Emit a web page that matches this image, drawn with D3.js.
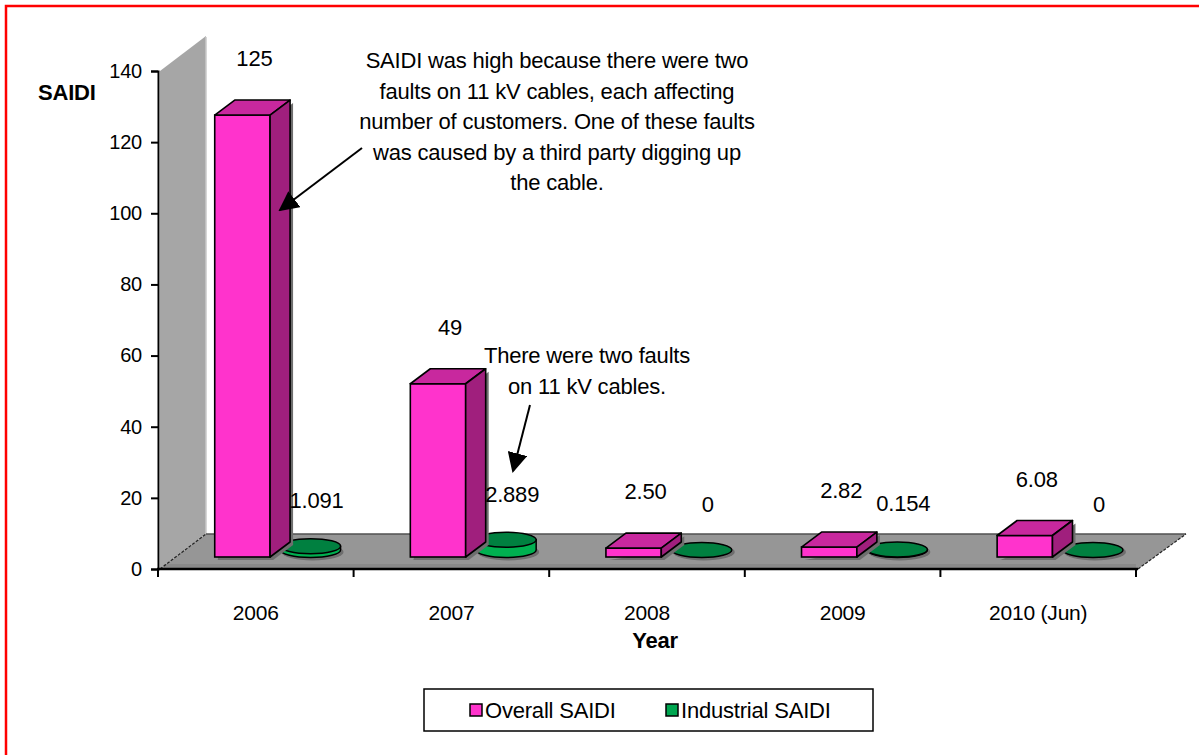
<!DOCTYPE html>
<html>
<head>
<meta charset="utf-8">
<script src="https://cdn.jsdelivr.net/npm/d3@7/dist/d3.min.js"></script>
<style>
  html, body { margin: 0; padding: 0; background: #fff; }
  svg { display: block; }
  text { font-family: "Liberation Sans", Arial, sans-serif; fill: #000; letter-spacing: -0.2px; }
</style>
</head>
<body>
<svg id="chart" width="1199" height="755"></svg>
<script>
// SAIDI by year
const years = ["2006", "2007", "2008", "2009", "2010 (Jun)"];
const overallSaidi = [125, 49, 2.50, 2.82, 6.08];
const industrialSaidi = [1.091, 2.889, 0, 0.154, 0];
const overallLabels = ["125", "49", "2.50", "2.82", "6.08"];
const industrialLabels = ["1.091", "2.889", "0", "0.154", "0"];
const yTickValues = [0, 20, 40, 60, 80, 100, 120, 140];
const seriesNames = ["Overall SAIDI", "Industrial SAIDI"];

const note1 = [
  "SAIDI was high because there were two",
  "faults on 11 kV cables, each affecting",
  "number of customers. One of these faults",
  "was caused by a third party digging up",
  "the cable."
];
const note2 = ["There were two faults", "on 11 kV cables."];

const svg = d3.select("#chart");

// colours
const pinkFront = "#FF33CC", pinkTop = "#C8289E", pinkSide = "#A01F7D";
const greenTop = "#008040", greenSide = "#00B050", greenLegend = "#00A650";

// frame
svg.append("rect").attr("x", 6).attr("y", 6).attr("width", 1210).attr("height", 770)
  .attr("fill", "none").attr("stroke", "#FF0000").attr("stroke-width", 2.5);

// scales
const x = d3.scaleBand().domain(years).range([158, 1136]).paddingInner(0).paddingOuter(0);
const y = d3.scaleLinear().domain([0, 140]).range([569, 71]);
// bars stand on a plane set back into the floor
const yBar = d3.scaleLinear().domain([0, 140]).range([557, 62]);

const depthX = 46, depthY = -35;   // floor / wall depth
const barDX = 20, barDY = -15;     // bar depth
const bw = x.bandwidth();
const barW = bw * 0.283;
const barX = d => x(d) + bw * 0.29;
const cylCX = d => x(d) + bw * 0.78;
const cylRX = 30, cylRY = 7.5, cylBase = 550;

// side wall
const wx0 = 160;
svg.append("polygon")
  .attr("points", [[wx0, y(0)], [wx0 + depthX, y(0) + depthY], [wx0 + depthX, y(140) + depthY], [wx0, y(140)]].join(" "))
  .attr("fill", "#A6A6A6");
svg.append("line").attr("x1", wx0 + depthX).attr("x2", wx0 + depthX)
  .attr("y1", y(140) + depthY + 1).attr("y2", y(0) + depthY)
  .attr("stroke", "#C8C8C8").attr("stroke-width", 1.5);

// floor
const fx1 = 1138;
svg.append("polygon")
  .attr("points", [[wx0, y(0)], [wx0 + depthX, y(0) + depthY], [fx1 + depthX + 2, y(0) + depthY], [fx1, y(0)]].join(" "))
  .attr("fill", "#969696");
svg.append("line").attr("x1", wx0 + depthX).attr("x2", fx1 + depthX + 2)
  .attr("y1", y(0) + depthY).attr("y2", y(0) + depthY)
  .attr("stroke", "#505050").attr("stroke-width", 1.5);
svg.append("rect").attr("x", wx0 + 4).attr("y", y(0) - 5).attr("width", fx1 - wx0 - 6).attr("height", 4)
  .attr("fill", "#8A8A8A");
// depth edges of the floor
[wx0, fx1].forEach((fx, i) => {
  svg.append("line").attr("x1", fx).attr("y1", y(0)).attr("x2", fx + depthX + (i ? 2 : 0)).attr("y2", y(0) + depthY)
    .attr("stroke", "#222").attr("stroke-width", 1.2).attr("stroke-dasharray", "3,1.5");
});

// axes
const yAxis = d3.axisLeft(y).tickValues(yTickValues).tickSize(7).tickPadding(9).tickFormat(d3.format("d"));
const gy = svg.append("g").attr("transform", "translate(158,0)").call(yAxis);
gy.select(".domain").attr("stroke", "#000").attr("stroke-width", 2);
gy.selectAll(".tick line").attr("stroke", "#000").attr("stroke-width", 2);
gy.selectAll(".tick text").attr("font-size", 20).attr("font-family", "Liberation Sans, Arial, sans-serif").attr("fill", "#000");

const xAxis = d3.axisBottom(x).tickSize(0).tickPadding(0).tickFormat(d => d);
const gx = svg.append("g").attr("transform", `translate(0,${y(0)})`).call(xAxis);
gx.select(".domain").remove();
gx.selectAll(".tick text").attr("font-size", 21).attr("y", 51).attr("dy", 0)
  .attr("font-family", "Liberation Sans, Arial, sans-serif").attr("fill", "#000");
svg.append("line").attr("x1", 157).attr("x2", fx1).attr("y1", y(0)).attr("y2", y(0))
  .attr("stroke", "#000").attr("stroke-width", 2.5);
// category boundary ticks
const bounds = years.map(d => x(d)).concat([x(years[years.length - 1]) + bw]);
svg.selectAll(".xtick").data(bounds).join("line").attr("class", "xtick")
  .attr("x1", d => d).attr("x2", d => d).attr("y1", y(0)).attr("y2", y(0) + 8)
  .attr("stroke", "#000").attr("stroke-width", 2);

// axis titles
svg.append("text").attr("x", 38).attr("y", 100).attr("font-size", 22).attr("font-weight", "bold").text("SAIDI");
svg.append("text").attr("x", 655).attr("y", 648).attr("text-anchor", "middle").attr("font-size", 22)
  .attr("font-weight", "bold").text("Year");

// industrial cylinders
const cyl = svg.append("g");
years.forEach((d, i) => {
  const cx = cylCX(d);
  const h = yBar(0) - yBar(industrialSaidi[i]);
  const top = cylBase - h;
  // shadow
  cyl.append("ellipse").attr("cx", cx + 2).attr("cy", cylBase + 2).attr("rx", cylRX + 1).attr("ry", cylRY + 1)
    .attr("fill", "#6E6E6E");
  if (h > 0.5) {
    cyl.append("path")
      .attr("d", `M${cx - cylRX},${top} L${cx - cylRX},${cylBase} A${cylRX},${cylRY} 0 0 0 ${cx + cylRX},${cylBase} L${cx + cylRX},${top} Z`)
      .attr("fill", greenSide).attr("stroke", "#000").attr("stroke-width", 1.5);
  }
  cyl.append("ellipse").attr("cx", cx).attr("cy", top).attr("rx", cylRX).attr("ry", cylRY)
    .attr("fill", greenTop).attr("stroke", "#000").attr("stroke-width", 1.5);
});

// overall bars
const bars = svg.append("g");
years.forEach((d, i) => {
  const x0 = barX(d), x1 = x0 + barW;
  const yt = yBar(overallSaidi[i]), yb = yBar(0);
  bars.append("polygon")
    .attr("points", [[x0 + 3, yb + 3], [x1 + 3, yb + 3], [x1 + barDX + 3, yb + barDY + 3], [x1 + barDX + 3, yt + barDY + 3], [x1 + 3, yt + 3]].join(" "))
    .attr("fill", "#6E6E6E");
  bars.append("rect").attr("x", x0).attr("y", yt).attr("width", barW).attr("height", yb - yt)
    .attr("fill", pinkFront).attr("stroke", "#000").attr("stroke-width", 1.6);
  bars.append("polygon")
    .attr("points", [[x0, yt], [x0 + barDX, yt + barDY], [x1 + barDX, yt + barDY], [x1, yt]].join(" "))
    .attr("fill", pinkTop).attr("stroke", "#000").attr("stroke-width", 1.6).attr("stroke-linejoin", "round");
  bars.append("polygon")
    .attr("points", [[x1, yt], [x1 + barDX, yt + barDY], [x1 + barDX, yb + barDY], [x1, yb]].join(" "))
    .attr("fill", pinkSide).attr("stroke", "#000").attr("stroke-width", 1.6).attr("stroke-linejoin", "round");
});

// value labels
const lbl = svg.append("g").attr("font-size", 22).attr("text-anchor", "middle");
years.forEach((d, i) => {
  lbl.append("text").attr("x", barX(d) + barW / 2 + 12).attr("y", yBar(overallSaidi[i]) + barDY - 34)
    .text(overallLabels[i]);
  const top = cylBase - (yBar(0) - yBar(industrialSaidi[i]));
  lbl.append("text").attr("x", cylCX(d) + 6).attr("y", top - 38).text(industrialLabels[i]);
});

// notes
const n1 = svg.append("text").attr("font-size", 22).attr("text-anchor", "middle");
note1.forEach((t, i) => n1.append("tspan").attr("x", 557).attr("y", 68 + i * 30.5).text(t));
const n2 = svg.append("text").attr("font-size", 22).attr("text-anchor", "middle");
note2.forEach((t, i) => n2.append("tspan").attr("x", 587).attr("y", 363 + i * 31).text(t));

// arrows
const defs = svg.append("defs");
defs.append("marker").attr("id", "head").attr("viewBox", "0 0 10 10").attr("refX", 9).attr("refY", 5)
  .attr("markerWidth", 20).attr("markerHeight", 20).attr("markerUnits", "userSpaceOnUse").attr("orient", "auto")
  .append("path").attr("d", "M0,0 L10,5 L0,10 Z").attr("fill", "#000");
svg.append("line").attr("x1", 362).attr("y1", 148).attr("x2", 280).attr("y2", 210)
  .attr("stroke", "#000").attr("stroke-width", 2).attr("marker-end", "url(#head)");
svg.append("line").attr("x1", 530).attr("y1", 405).attr("x2", 513).attr("y2", 471)
  .attr("stroke", "#000").attr("stroke-width", 2).attr("marker-end", "url(#head)");

// legend
const lg = svg.append("g");
lg.append("rect").attr("x", 424).attr("y", 689).attr("width", 449).attr("height", 42)
  .attr("fill", "#fff").attr("stroke", "#000").attr("stroke-width", 1.5);
const legendItems = [
  { name: seriesNames[0], color: pinkFront, x: 470 },
  { name: seriesNames[1], color: greenLegend, x: 666 }
];
legendItems.forEach(it => {
  lg.append("rect").attr("x", it.x).attr("y", 704).attr("width", 12).attr("height", 12)
    .attr("fill", it.color).attr("stroke", "#000").attr("stroke-width", 1.5);
  lg.append("text").attr("x", it.x + 15).attr("y", 718).attr("font-size", 22).text(it.name);
});
</script>
</body>
</html>
